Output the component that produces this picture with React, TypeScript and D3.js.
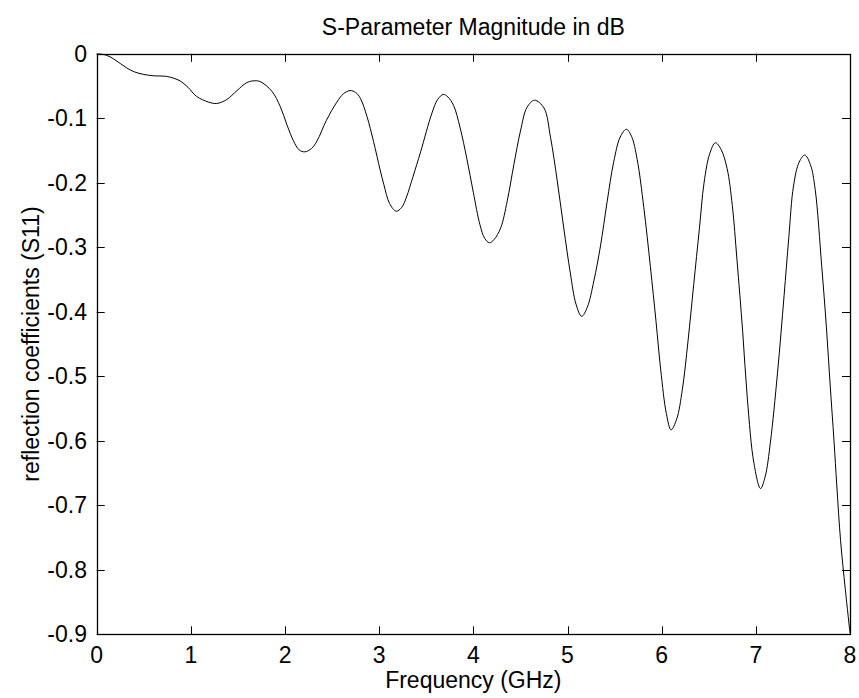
import React, { useEffect, useRef } from "react";
import * as d3 from "d3";

const freqGHz = [
  0.0, 0.1, 0.18, 0.25, 0.32, 0.4, 0.5, 0.6, 0.74, 0.82, 0.885, 0.97, 1.06, 1.19, 1.275, 1.38, 1.49, 1.59, 1.66, 1.735,
  1.86, 1.95, 2.02, 2.09, 2.15, 2.21, 2.28, 2.34, 2.44, 2.55, 2.62, 2.69, 2.75, 2.8, 2.87, 2.94, 3.01, 3.05, 3.11, 3.18,
  3.24, 3.29, 3.36, 3.44, 3.56, 3.62, 3.68, 3.73, 3.79, 3.86, 3.93, 4.0, 4.07, 4.12, 4.17, 4.22, 4.29, 4.36, 4.43, 4.5,
  4.57, 4.65, 4.75, 4.82, 4.89, 4.96, 5.03, 5.09, 5.15, 5.21, 5.28, 5.35, 5.42, 5.49, 5.56, 5.625, 5.68, 5.74, 5.81, 5.88,
  5.94, 5.99, 6.05, 6.1, 6.16, 6.22, 6.28, 6.34, 6.4, 6.45, 6.51, 6.57, 6.63, 6.695, 6.75, 6.8, 6.86, 6.91, 6.98, 7.05,
  7.1, 7.155, 7.23, 7.3, 7.35, 7.4, 7.46, 7.52, 7.58, 7.63, 7.7, 7.75, 7.79, 7.83, 7.86, 7.9, 7.95, 8.0,
];

const s11 = [
  0.0, -0.002, -0.008, -0.015, -0.022, -0.028, -0.032, -0.034, -0.035, -0.038, -0.042, -0.052, -0.066, -0.075, -0.077,
  -0.071, -0.057, -0.045, -0.042, -0.043, -0.058, -0.082, -0.11, -0.135, -0.149, -0.152, -0.147, -0.135, -0.103, -0.075,
  -0.062, -0.057, -0.06, -0.069, -0.097, -0.136, -0.18, -0.203, -0.232, -0.244, -0.238, -0.222, -0.19, -0.152, -0.092,
  -0.071, -0.063, -0.067, -0.08, -0.115, -0.162, -0.215, -0.265, -0.286, -0.293, -0.288, -0.27, -0.228, -0.172, -0.12,
  -0.083, -0.072, -0.084, -0.13, -0.196, -0.27, -0.34, -0.388, -0.407, -0.393, -0.352, -0.298, -0.23, -0.168, -0.129,
  -0.117, -0.128, -0.164, -0.238, -0.33, -0.415, -0.49, -0.558, -0.583, -0.566, -0.52, -0.445, -0.358, -0.272, -0.2,
  -0.155, -0.138, -0.148, -0.178, -0.235, -0.32, -0.43, -0.535, -0.635, -0.674, -0.655, -0.602, -0.495, -0.375, -0.285,
  -0.205, -0.168, -0.157, -0.172, -0.21, -0.33, -0.425, -0.515, -0.6, -0.67, -0.755, -0.83, -0.898,
];

const xTicks = [0, 1, 2, 3, 4, 5, 6, 7, 8];
const yTicks = [0, -0.1, -0.2, -0.3, -0.4, -0.5, -0.6, -0.7, -0.8, -0.9];

const titleText = "S-Parameter Magnitude in dB";
const xLabelText = "Frequency (GHz)";
const yLabelText = "reflection coefficients (S11)";

const W = 859;
const H = 698;
const L = 96.7;
const R = 850;
const T = 53.8;
const B = 634.3;
const FONT = "'Liberation Sans', Arial, Helvetica, sans-serif";
const FS = 23;

export default function App() {
  const ref = useRef<SVGSVGElement | null>(null);

  useEffect(() => {
    const svg = d3.select(ref.current);
    svg.selectAll("*").remove();

    const x = d3.scaleLinear().domain([0, 8]).range([L, R]);
    const y = d3.scaleLinear().domain([-0.9, 0]).range([B, T]);

    svg.append("rect").attr("width", W).attr("height", H).attr("fill", "#fff");

    const tl = 8;
    const axes = svg.append("g").attr("stroke", "#000").attr("stroke-width", 1).attr("fill", "none");
    xTicks.forEach((t) => {
      const px = Math.round(x(t)) + 0.5;
      axes.append("line").attr("x1", px).attr("x2", px).attr("y1", B).attr("y2", B - tl);
      axes.append("line").attr("x1", px).attr("x2", px).attr("y1", T).attr("y2", T + tl);
    });
    yTicks.forEach((t) => {
      const py = Math.round(y(t)) + 0.5;
      axes.append("line").attr("x1", L).attr("x2", L + tl).attr("y1", py).attr("y2", py);
      axes.append("line").attr("x1", R).attr("x2", R - tl).attr("y1", py).attr("y2", py);
    });

    const line = d3
      .line<number>()
      .x((_, i) => x(freqGHz[i]))
      .y((d) => y(d))
      .curve(d3.curveCatmullRom.alpha(0.5));

    svg
      .append("path")
      .datum(s11)
      .attr("d", line)
      .attr("fill", "none")
      .attr("stroke", "#000")
      .attr("stroke-width", 1);

    svg
      .append("rect")
      .attr("x", Math.round(L) + 0.5)
      .attr("y", Math.round(T) + 0.5)
      .attr("width", Math.round(R) - Math.round(L))
      .attr("height", Math.round(B) - Math.round(T))
      .attr("fill", "none")
      .attr("stroke", "#000")
      .attr("stroke-width", 1.3);

    const txt = svg.append("g").attr("font-family", FONT).attr("font-size", FS).attr("fill", "#000");

    xTicks.forEach((t) => {
      txt.append("text").attr("x", x(t)).attr("y", 663).attr("text-anchor", "middle").text(String(t));
    });
    yTicks.forEach((t) => {
      txt
        .append("text")
        .attr("x", 87)
        .attr("y", y(t) + 8)
        .attr("text-anchor", "end")
        .text(t === 0 ? "0" : t.toFixed(1));
    });

    txt
      .append("text")
      .attr("x", (L + R) / 2)
      .attr("y", 35)
      .attr("text-anchor", "middle")
      .text(titleText);

    txt
      .append("text")
      .attr("x", (L + R) / 2)
      .attr("y", 688)
      .attr("text-anchor", "middle")
      .text(xLabelText);

    txt
      .append("text")
      .attr("transform", `translate(39,${(T + B) / 2}) rotate(-90)`)
      .attr("text-anchor", "middle")
      .text(yLabelText);
  }, []);

  return (
    <svg
      ref={ref}
      width={W}
      height={H}
      style={{ position: "absolute", left: 0, top: 0, display: "block" }}
    />
  );
}
